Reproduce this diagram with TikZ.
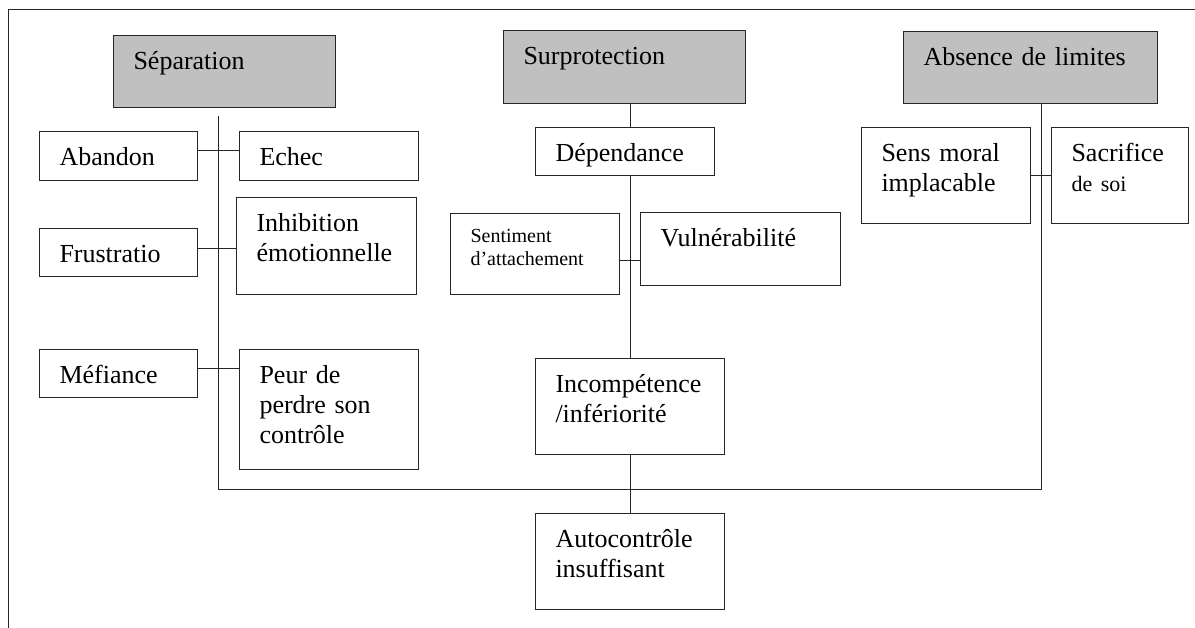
\documentclass[tikz,border=0pt]{standalone}
\usepackage{fontspec}
\setmainfont{Liberation Serif}
\definecolor{headgray}{RGB}{192,192,192}
\begin{document}
\begin{tikzpicture}[x=1pt, y=-1pt, line width=1pt, draw=black!85,
    box/.style={draw=black!85, anchor=north west, align=left, inner xsep=20pt, inner ysep=0pt,
        text height=34pt, font=\fontsize{26}{30}\selectfont},
    head/.style={box, fill=headgray}]
    \useasboundingbox (0,0) rectangle (1195,628);

    % frame
    \coordinate (framebl) at (8,628);
    \coordinate (frametr) at (1195,10);
    \draw (framebl) |- (frametr);

    % heads
    \node[head, text width=182pt, text depth=38pt] (sep) at (113,35) {Séparation};
    \node[head, text width=202pt, text depth=39pt] (surp) at (503,30) {Surprotection};
    \node[head, text width=214pt, text depth=38pt] (abs) at (903,31) {Absence de limites};

    % left branch
    \node[box, text width=118pt, text depth=15pt] (aband) at (39,131) {Abandon};
    \node[box, text width=139pt, text depth=15pt] (echec) at (239,131) {Echec};
    \node[box, text width=118pt, text depth=14pt] (frust) at (39,228) {Frustratio};
    \node[box, text width=140pt, text depth=63pt] (inhib) at (236,197) {Inhibition\\émotionnelle};
    \node[box, text width=118pt, text depth=14pt] (mef) at (39,349) {Méfiance};
    \node[box, text width=139pt, text depth=86pt] (peur) at (239,349) {Peur de\\perdre son\\contrôle};

    % middle branch
    \node[box, text width=139pt, text depth=14pt] (dep) at (535,127) {Dépendance};
    \node[box, text width=129pt, text height=29pt, text depth=52pt, font=\fontsize{20}{23}\selectfont] (sent) at (450,213) {Sentiment\\d’attachement};
    \node[box, text width=160pt, text depth=39pt] (vuln) at (640,212) {Vulnérabilité};
    \node[box, text width=149pt, text depth=62pt] (incomp) at (535,358) {Incompétence\\/infériorité};
    \node[box, text width=149pt, text depth=62pt] (auto) at (535,513) {Autocontrôle\\insuffisant};

    % right branch
    \node[box, text width=129pt, text depth=62pt] (sens) at (861,127) {Sens moral\\implacable};
    \node[box, text width=97pt, text depth=62pt] (sacr) at (1051,127) {Sacrifice\\{\fontsize{22}{28}\selectfont de soi}};

    % trunk lines
    \coordinate (sepline) at (218,116);
    \coordinate (absline) at (1041,489);
    \draw (sepline) |- (absline) -- (absline |- abs.south);
    \draw (incomp.north |- surp.south) -- (incomp.north |- dep.north);
    \draw (incomp.north |- dep.south) -- (incomp.north);
    \draw (incomp.south) -- (auto.north);

    % pairs
    \draw ([yshift=5pt]aband.east) -- ([yshift=5pt]aband.east -| echec.west);
    \draw ([yshift=4pt]frust.east) -- ([yshift=4pt]frust.east -| inhib.west);
    \draw ([yshift=5pt]mef.east) -- ([yshift=5pt]mef.east -| peur.west);
    \draw ([yshift=-7pt]sent.east) -- ([yshift=-7pt]sent.east -| vuln.west);
    \draw (sens.east) -- (sacr.west);
\end{tikzpicture}
\end{document}
